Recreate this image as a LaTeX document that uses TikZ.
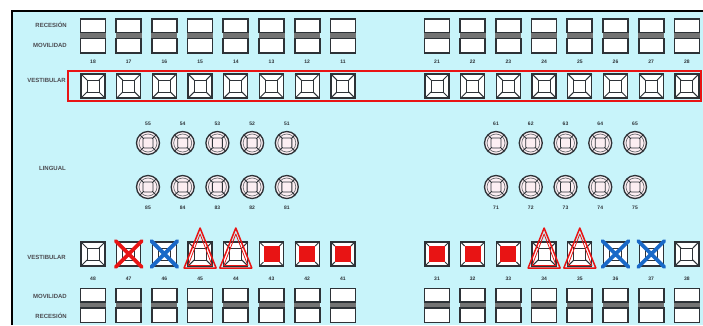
\documentclass[tikz,border=0pt]{standalone}
\usepackage{fontspec}
\setmainfont{Liberation Sans}
\definecolor{bgc}{RGB}{200,244,250}
\definecolor{dk}{RGB}{45,50,55}
\definecolor{redc}{RGB}{232,20,20}
\definecolor{bluec}{RGB}{25,105,200}
\definecolor{lbl}{RGB}{75,75,80}
\definecolor{band}{RGB}{115,115,115}
\definecolor{pinkw}{RGB}{252,238,242}
\tikzset{
  lab/.style={font=\fontsize{6}{6}\selectfont\bfseries, text=lbl, inner sep=0pt, anchor=east},
  num/.style={font=\fontsize{5}{5}\selectfont\bfseries, text=dk, inner sep=0pt},
  frameln/.style={dk, line width=1.3pt},
  vt/.pic={
    \fill[white] (-12,-12) rectangle (12,12);
    \draw[frameln] (-12,-12) rectangle (12,12);
    \draw[dk, line width=1pt] (-6,-6) rectangle (6,6);
    \draw[dk, line width=1pt] (-12,-12)--(-6,-6) (12,-12)--(6,-6) (12,12)--(6,6) (-12,12)--(-6,6);
  },
  vtred/.pic={
    \fill[white] (-12,-12) rectangle (12,12);
    \fill[redc] (-8,-8) rectangle (8,8);
    \draw[frameln] (-12,-12) rectangle (12,12);
    \draw[dk, line width=1pt] (-12,-12)--(-8,-8) (12,-12)--(8,-8) (12,12)--(8,8) (-12,12)--(-8,8);
  },
  vtx/.pic={
    \pic {vt};
    \draw[line width=3.8pt, line cap=round, #1] (-13,-13)--(13,13) (-13,13)--(13,-13);
  },
  vttri/.pic={
    \pic {vt};
    \draw[redc, line width=1.5pt, line join=round] (0,-26)--(16,14)--(-16,14)--cycle;
    \draw[redc, line width=0.8pt, line join=round] (0,-20)--(12,11.5)--(-12,11.5)--cycle;
  },
  lt/.pic={
    \fill[pinkw] (0,0) circle (11.5);
    \draw[dk, line width=1.3pt] (0,0) circle (11.5);
    \draw[dk!70, line width=0.7pt] (0,0) circle (9);
    \fill[pinkw] (-5,-5) rectangle (5,5);
    \draw[dk, line width=0.9pt, rounded corners=1pt] (-5,-5) rectangle (5,5);
    \draw[dk, line width=1pt] (-5,-5)--(-8.1,-8.1) (5,-5)--(8.1,-8.1) (5,5)--(8.1,8.1) (-5,5)--(-8.1,8.1);
  },
  boxpair/.pic={
    \fill[band] (-13,0) rectangle (13,6);
    \fill[white] (-12.5,-13.5) rectangle (12.5,0);
    \fill[white] (-12.5,6) rectangle (12.5,20.5);
    \draw[dk, line width=1.7pt] (-12.5,-13.5) rectangle (12.5,0);
    \draw[dk, line width=1.7pt] (-12.5,6) rectangle (12.5,20.5);
  }
}
\begin{document}
\begin{tikzpicture}[x=1pt,y=-1pt]
\useasboundingbox (0,0) rectangle (703,325);
\fill[white] (0,0) rectangle (703,325);
\fill[bgc] (12,11) rectangle (703,325);
\draw[black, line width=1.6pt] (12,325) -- (12,11) -- (703,11);

% left labels
\node[lab] (rec1) at (67,25) {RECESIÓN};
\node[lab] (mov1) at (67,45.5) {MOVILIDAD};
\node[lab] (ves1) at (66,80) {VESTIBULAR};
\node[lab] (ling) at (66,168) {LINGUAL};
\node[lab] (ves2) at (66,257) {VESTIBULAR};
\node[lab] (mov2) at (67,296) {MOVILIDAD};
\node[lab] (rec2) at (67,316) {RECESIÓN};

% upper teeth
\foreach \n [count=\i from 0] in {18,17,16,15,14,13,12,11} {
  \pic at ({93+35.7*\i},32.5) {boxpair};
  \node[num] (u\n) at ({93+35.7*\i},62) {\n};
  \pic at ({93+35.7*\i},86) {vt};
}
\foreach \n [count=\i from 0] in {21,22,23,24,25,26,27,28} {
  \pic at ({437+35.7*\i},32.5) {boxpair};
  \node[num] (u\n) at ({437+35.7*\i},62) {\n};
  \pic at ({437+35.7*\i},86) {vt};
}
\draw[redc, line width=2.4pt] (68,71) rectangle (701,101);

% lingual
\foreach \n [count=\i from 0] in {55,54,53,52,51} {
  \node[num] (c\n) at ({148+34.7*\i},124) {\n};
  \pic at ({148+34.7*\i},143) {lt};
}
\foreach \n [count=\i from 0] in {85,84,83,82,81} {
  \pic at ({148+34.7*\i},187) {lt};
  \node[num] (c\n) at ({148+34.7*\i},208) {\n};
}
\foreach \n [count=\i from 0] in {61,62,63,64,65} {
  \node[num] (c\n) at ({496+34.75*\i},124) {\n};
  \pic at ({496+34.75*\i},143) {lt};
}
\foreach \n [count=\i from 0] in {71,72,73,74,75} {
  \pic at ({496+34.75*\i},187) {lt};
  \node[num] (c\n) at ({496+34.75*\i},208) {\n};
}

% lower teeth
\foreach \n [count=\i from 0] in {48,47,46,45,44,43,42,41} {
  \pic at ({93+35.7*\i},302) {boxpair};
  \node[num] (l\n) at ({93+35.7*\i},279) {\n};
}
\foreach \n [count=\i from 0] in {31,32,33,34,35,36,37,38} {
  \pic at ({437+35.7*\i},302) {boxpair};
  \node[num] (l\n) at ({437+35.7*\i},279) {\n};
}
\pic at (93,254) {vt};
\pic at (128.7,254) {vtx=redc};
\pic at (164.4,254) {vtx=bluec};
\pic at (200.1,254) {vttri};
\pic at (235.8,254) {vttri};
\pic at (271.5,254) {vtred};
\pic at (307.2,254) {vtred};
\pic at (342.9,254) {vtred};
\pic at (437,254) {vtred};
\pic at (472.7,254) {vtred};
\pic at (508.4,254) {vtred};
\pic at (544.1,254) {vttri};
\pic at (579.8,254) {vttri};
\pic at (615.5,254) {vtx=bluec};
\pic at (651.2,254) {vtx=bluec};
\pic at (686.9,254) {vt};
\end{tikzpicture}
\end{document}
